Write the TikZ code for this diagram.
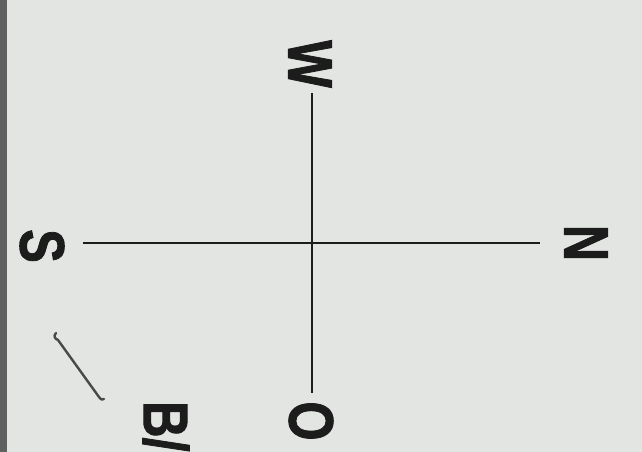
\documentclass[tikz,border=0pt]{standalone}
\usepackage{fontspec}
\setmainfont{Liberation Sans}
\newfontfamily\heavyfont[FakeBold=1.6]{Liberation Sans Bold}
\definecolor{paper}{RGB}{226,229,226}
\definecolor{edge}{RGB}{95,97,96}
\definecolor{ink}{RGB}{28,28,28}
\tikzset{
  letter/.style={inner sep=0pt, text=ink, rotate=-90, font=\fontsize{63}{63}\heavyfont},
  axis/.style={draw=ink, line width=2pt},
}
\newcommand{\narrow}[1]{\scalebox{0.8}[1]{#1}}
\begin{document}
\begin{tikzpicture}[x=1pt,y=-1pt]
  \fill[paper] (0,0) rectangle (642,452);
  \useasboundingbox (0,0) rectangle (642,452);
  \clip (0,0) rectangle (642,452);
  \fill[edge] (0,0) rectangle (7,452);
  % end points of the axes
  \coordinate (top) at (312,93);
  \coordinate (bot) at (312,393);
  \coordinate (lft) at (83,243);
  \coordinate (rgt) at (540,243);
  \coordinate (ctr) at (312,243);
  \draw[axis] (top) -- (bot);
  \draw[axis] (lft) -- (rgt);
  % labels
  \node[letter] (W) at (310,64) {\narrow{W}};
  \node[letter] (S) at (42,246) {\narrow{S}};
  \node[letter] (N) at (586,243) {\narrow{N}};
  \node[letter] (O) at (311,421) {\narrow{O}};
  \node[letter, anchor=west] (B) at (166,401) {\narrow{B/}};
  % stray pen mark
  \coordinate (m1) at (56,333);
  \coordinate (m2) at (104,399);
  \draw[draw=ink!80, line width=2.4pt, line cap=round, line join=round] (m1) .. controls (53,336) and (55,339) .. (58,340) -- (99,397) .. controls (101,400) and (103,400) .. (m2);
\end{tikzpicture}
\end{document}
